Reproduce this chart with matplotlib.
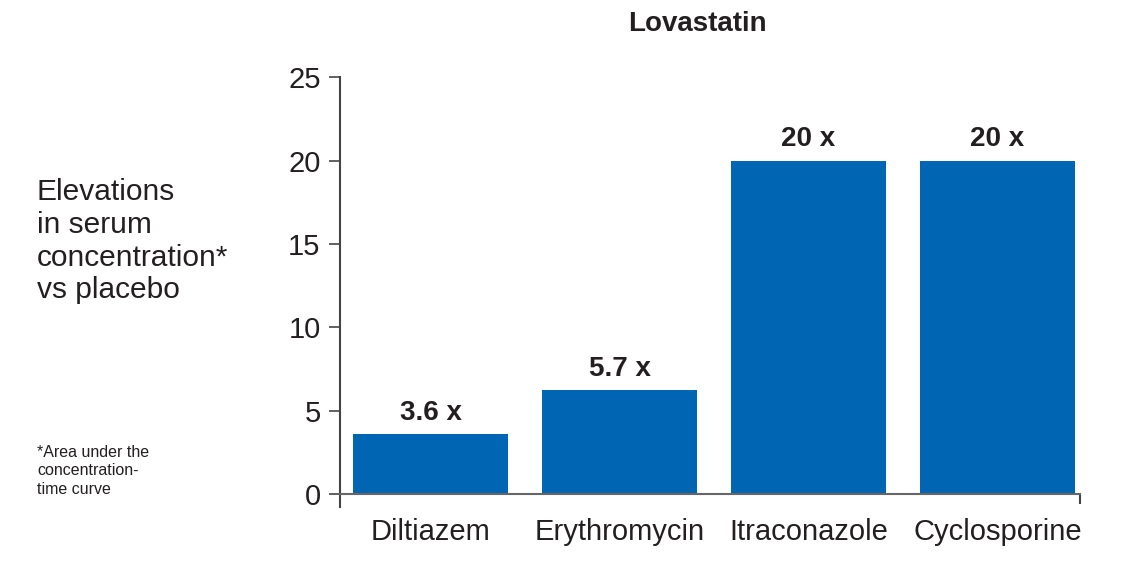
import matplotlib
matplotlib.use('Agg')
import matplotlib.pyplot as plt

plt.rcParams['font.family'] = ['Liberation Sans', 'DejaVu Sans']

# data
drugs = ['Diltiazem', 'Erythromycin', 'Itraconazole', 'Cyclosporine']
fold = [3.6, 6.25, 20, 20]
fold_labels = ['3.6 x', '5.7 x', '20 x', '20 x']
y_ticks = [0, 5, 10, 15, 20, 25]

text_c = '#231f20'
bar_c = '#0066b3'
line_c = '#444444'

fig = plt.figure(figsize=(11.21, 5.61), dpi=100)
ax = fig.add_axes([0.3033, 0.0963, 0.6601, 0.7664])

x = range(len(drugs))
ax.bar(x, fold, width=0.82, color=bar_c, zorder=2)
for xi, v, lab in zip(x, fold, fold_labels):
    ax.annotate(lab, (xi, v), xytext=(0, 6), textcoords='offset points',
                ha='center', va='bottom', fontsize=20, fontweight='bold', color=text_c)

ax.set_xlim(-0.48, 3.437)
ax.set_ylim(-0.75, 25)
ax.set_yticks(y_ticks)
ax.set_xticks(list(x))
ax.set_xticklabels(drugs)
ax.set_xticks([3.437], minor=True)

for s in ['top', 'right']:
    ax.spines[s].set_visible(False)
ax.spines['bottom'].set_position(('data', 0))
ax.spines['bottom'].set_color('#666666')
ax.spines['bottom'].set_linewidth(1.5)
ax.spines['left'].set_color(line_c)
ax.spines['left'].set_linewidth(1.5)

ax.tick_params(axis='y', direction='out', length=8, width=1.2, color=line_c,
               pad=6, labelsize=21, labelcolor=text_c)
ax.tick_params(axis='x', which='major', length=0, pad=17, labelsize=21, labelcolor=text_c)
ax.tick_params(axis='x', which='minor', direction='out', length=7.5, width=1.5, color=line_c)

fig.text(0.622, 0.958, 'Lovastatin', ha='center', va='center',
         fontsize=20, fontweight='bold', color=text_c)
fig.text(0.033, 0.683, 'Elevations\nin serum\nconcentration*\nvs placebo', ha='left', va='top',
         fontsize=21.5, color=text_c, linespacing=1.22)
fig.text(0.033, 0.207, '*Area under the\nconcentration-\ntime curve', ha='left', va='top',
         fontsize=11.5, color=text_c, linespacing=1.28)

fig.savefig('out.png', dpi=100, facecolor='white')
